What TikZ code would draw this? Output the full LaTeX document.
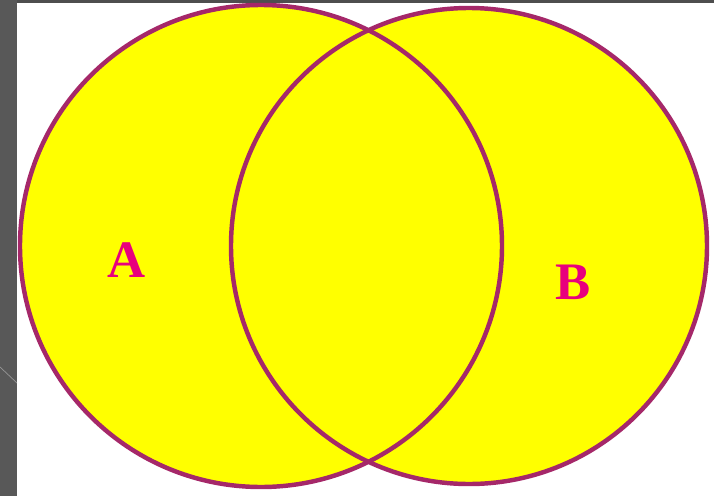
\documentclass[tikz,border=0pt]{standalone}
\usepackage{fontspec}
\setmainfont{Liberation Serif}
\usepackage{tikz}
\usetikzlibrary{positioning}
\definecolor{myyellow}{RGB}{255,255,0}
\definecolor{myplum}{RGB}{165,40,105}
\definecolor{mypink}{RGB}{232,0,125}
\definecolor{mystrip}{RGB}{88,88,88}
\definecolor{mytop}{RGB}{78,78,78}
\definecolor{mystripline}{RGB}{150,150,150}
\tikzset{
  setfill/.style={circle, fill=myyellow, inner sep=0pt},
  setline/.style={circle, draw=myplum, line width=3.8pt, inner sep=0pt},
  setlabel/.style={font=\fontsize{45}{45}\selectfont\bfseries, text=mypink}
}
\begin{document}
\begin{tikzpicture}[x=0.03cm, y=-0.03cm]
  \useasboundingbox (0,0) rectangle (714,496);
  \fill[white] (0,0) rectangle (714,496);

  % slide background
  \fill[mytop] (0,0) rectangle (714,3);
  \fill[mystrip] (0,0) rectangle (17,496);
  \coordinate (s1) at (0,367);
  \coordinate (s2) at (17,383);
  \draw[mystripline, line width=0.6pt] (s1) -- (s2);

  % sets
  \node[setfill, minimum size=482*0.03cm] (fillA) at (261,246) {};
  \node[setfill, minimum size=476*0.03cm] (fillB) at (469,246) {};
  \node[setline, minimum size=482*0.03cm] (setA) at (fillA) {};
  \node[setline, minimum size=476*0.03cm] (setB) at (fillB) {};

  % labels
  \node[setlabel] (labA) at (127,260) {A};
  \node[setlabel] (labB) at (573,282) {B};
\end{tikzpicture}
\end{document}
